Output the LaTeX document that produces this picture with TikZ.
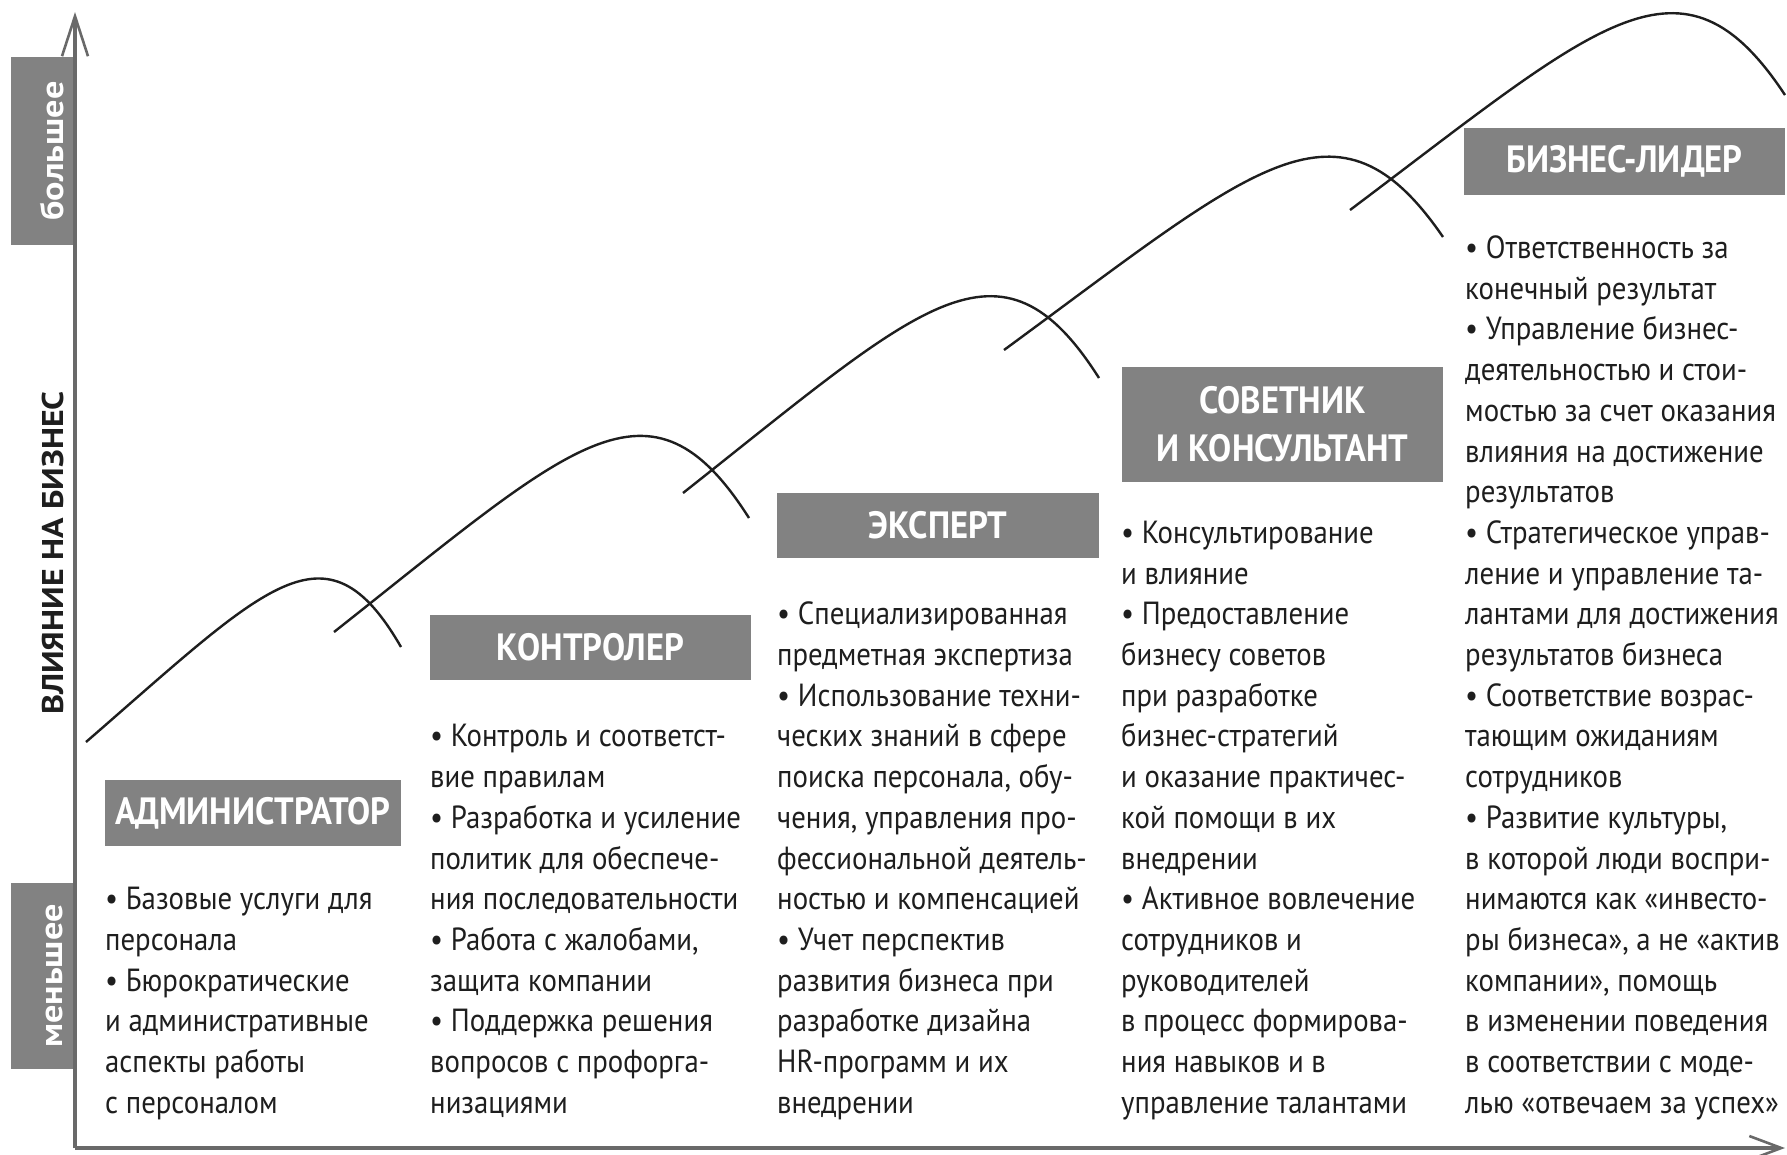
\documentclass[tikz,border=0pt]{standalone}
\usepackage{fontspec}
\setmainfont{PT Sans}
\newfontfamily\bodyf[FakeStretch=0.9]{PT Sans}
\newfontfamily\headf[FakeStretch=0.91]{PT Sans}
\newfontfamily\widef[FakeStretch=1.13]{PT Sans}
\usetikzlibrary{arrows.meta}
\definecolor{hdr}{RGB}{130,130,130}
\definecolor{ink}{RGB}{30,30,30}
\definecolor{axisc}{RGB}{105,105,105}
\begin{document}
\begin{tikzpicture}[x=1pt,y=-1pt,
  hbox/.style={fill=hdr, text=white, inner sep=0pt, align=center,
    font=\headf\bfseries\fontsize{38}{48}\selectfont},
  body/.style={anchor=north west, inner sep=0pt, align=left, text=ink,
    font=\bodyf\fontsize{32}{40.7}\selectfont},
  arcline/.style={draw=ink, line width=2.4pt},
  sidetext/.style={rotate=90, anchor=base, text=white, inner sep=0pt,
    font=\widef\bfseries\fontsize{32}{36}\selectfont},
  axisline/.style={draw=axisc, line width=3.2pt}]
\useasboundingbox[fill=white] (0,0) rectangle (1787,1154);

% side boxes
\fill[hdr] (11,57) rectangle (75,245);
\fill[hdr] (11,883) rectangle (75,1069);
\node[sidetext] (more) at (63,151) {большее};
\node[sidetext] (less) at (62,976) {меньшее};
\node[rotate=90, anchor=base, inner sep=0pt, text=ink,
  font=\widef\bfseries\fontsize{30}{34}\selectfont] (ylabel) at (63,553) {ВЛИЯНИЕ НА БИЗНЕС};

% axes
\coordinate (O) at (75,1148);
\coordinate (ytop) at (75,12);
\coordinate (xend) at (1785,1148);
\draw[axisline, -{Straight Barb[length=40pt,width=26pt,line width=2.6pt]}] (O) -- (ytop);
\draw[axisline, -{Straight Barb[length=32pt,width=24pt,line width=2.6pt]}] (O) -- (xend);

% curves
\draw[arcline] (86,742) .. controls (267,585) and (326,517) .. (401,647);
\draw[arcline] (334,632) .. controls (572,444) and (650,362) .. (749,518);
\draw[arcline] (683,493) .. controls (921,305) and (1000,222) .. (1099,378);
\draw[arcline] (1004,350) .. controls (1256,165) and (1338,84) .. (1443,237);
\draw[arcline] (1350,210) .. controls (1600,22) and (1682,-61) .. (1785,95);

% headers
\node[hbox, minimum width=296pt, minimum height=66pt] (h1) at (253,813) {АДМИНИСТРАТОР};
\node[hbox, minimum width=321pt, minimum height=65pt] (h2) at (590.5,647.5) {КОНТРОЛЕР};
\node[hbox, minimum width=322pt, minimum height=65pt] (h3) at (938,525.5) {ЭКСПЕРТ};
\node[hbox, minimum width=321pt, minimum height=115pt] (h4) at (1282.5,424.5) {СОВЕТНИК\\И КОНСУЛЬТАНТ};
\node[hbox, minimum width=321pt, minimum height=67pt] (h5) at (1624.5,161.5) {БИЗНЕС-ЛИДЕР};

% bodies
\node[body] (t1) at (105,881.0) {\strut• Базовые услуги для\\
персонала\\
• Бюрократические\\
и административные\\
аспекты работы\\
с персоналом};

\node[body] (t2) at (430,718.2) {\strut• Контроль и соответст-\\
вие правилам\\
• Разработка и усиление\\
политик для обеспече-\\
ния последовательности\\
• Работа с жалобами,\\
защита компании\\
• Поддержка решения\\
вопросов с профорга-\\
низациями};

\node[body] (t3) at (777,596.1) {\strut• Специализированная\\
предметная экспертиза\\
• Использование техни-\\
ческих знаний в сфере\\
поиска персонала, обу-\\
чения, управления про-\\
фессиональной деятель-\\
ностью и компенсацией\\
• Учет перспектив\\
развития бизнеса при\\
разработке дизайна\\
HR-программ и их\\
внедрении};

\node[body] (t4) at (1121,514.7) {\strut• Консультирование\\
и влияние\\
• Предоставление\\
бизнесу советов\\
при разработке\\
бизнес-стратегий\\
и оказание практичес-\\
кой помощи в их\\
внедрении\\
• Активное вовлечение\\
сотрудников и\\
руководителей\\
в процесс формирова-\\
ния навыков и в\\
управление талантами};

\node[body] (t5) at (1465,229.8) {\strut• Ответственность за\\
конечный результат\\
• Управление бизнес-\\
деятельностью и стои-\\
мостью за счет оказания\\
влияния на достижение\\
результатов\\
• Стратегическое управ-\\
ление и управление та-\\
лантами для достижения\\
результатов бизнеса\\
• Соответствие возрас-\\
тающим ожиданиям\\
сотрудников\\
• Развитие культуры,\\
в которой люди воспри-\\
нимаются как «инвесто-\\
ры бизнеса», а не «актив\\
компании», помощь\\
в изменении поведения\\
в соответствии с моде-\\
лью «отвечаем за успех»};
\end{tikzpicture}
\end{document}
